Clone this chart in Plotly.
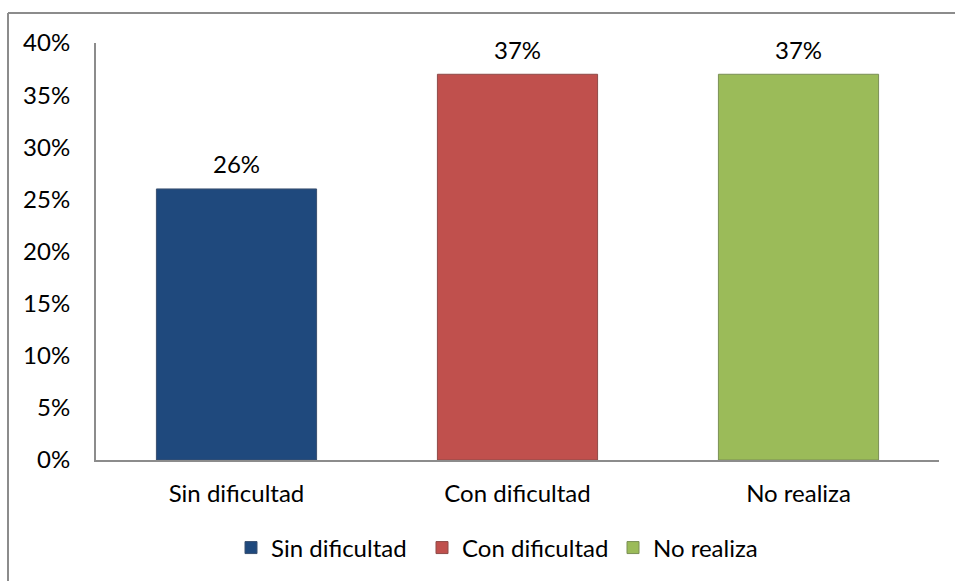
import plotly.graph_objects as go

categories = ["Sin dificultad", "Con dificultad", "No realiza"]
values = [0.26, 0.37, 0.37]
labels = ["26%", "37%", "37%"]
colors = ["#1F497D", "#C0504D", "#9BBB59"]
edge_colors = ["#3a5070", "#8e4a48", "#7a8f55"]
tick_vals = [0, 0.05, 0.10, 0.15, 0.20, 0.25, 0.30, 0.35, 0.40]
tick_text = ["0%", "5%", "10%", "15%", "20%", "25%", "30%", "35%", "40%"]

FONT = "Lato"
FS = 24
fig = go.Figure()
for i, (c, v) in enumerate(zip(categories, values)):
    fig.add_trace(go.Bar(
        x=[c], y=[v], name=c,
        marker=dict(color=colors[i], line=dict(color=edge_colors[i], width=1)),
        cliponaxis=False, width=0.57, offset=-0.285,
    ))
    fig.add_annotation(x=c, y=v, text=labels[i], showarrow=False, yshift=25,
                       font=dict(family=FONT, size=FS, color="#000000"))

PH = 581 - 43 - 121
PW = 955 - 96 - 16
top_y = (581 - 13 - 121) / PH
left_x = -(96 - 8) / PW

fig.update_layout(
    width=955, height=581,
    margin=dict(l=96, r=16, t=43, b=121, autoexpand=False),
    paper_bgcolor="white", plot_bgcolor="white",
    barmode="overlay",
    font=dict(family=FONT, size=FS, color="#000000"),
    showlegend=True,
    legend=dict(orientation="h", x=0.5, xanchor="center", y=-0.157, yanchor="top",
                font=dict(family=FONT, size=FS), traceorder="normal",
                entrywidth=146, entrywidthmode="pixels"),
    xaxis=dict(showline=True, linecolor="#8c8c8c", linewidth=2, showgrid=False,
               ticks="", tickfont=dict(family=FONT, size=FS), ticklabelstandoff=11,
               categoryorder="array", categoryarray=categories, automargin=False),
    yaxis=dict(range=[0, 0.40], showline=True, linecolor="#8c8c8c", linewidth=2,
               showgrid=False, ticks="", tickvals=tick_vals, ticktext=tick_text,
               tickfont=dict(family=FONT, size=FS), ticklabelstandoff=19, automargin=False),
)
fig.add_shape(type="line", xref="paper", yref="paper", x0=left_x, x1=left_x, y0=-1, y1=top_y,
              line=dict(color="#8c8c8c", width=2), layer="above")
fig.add_shape(type="line", xref="paper", yref="paper", x0=left_x, x1=2, y0=top_y, y1=top_y,
              line=dict(color="#8c8c8c", width=2), layer="above")
fig.write_html("out.html")
